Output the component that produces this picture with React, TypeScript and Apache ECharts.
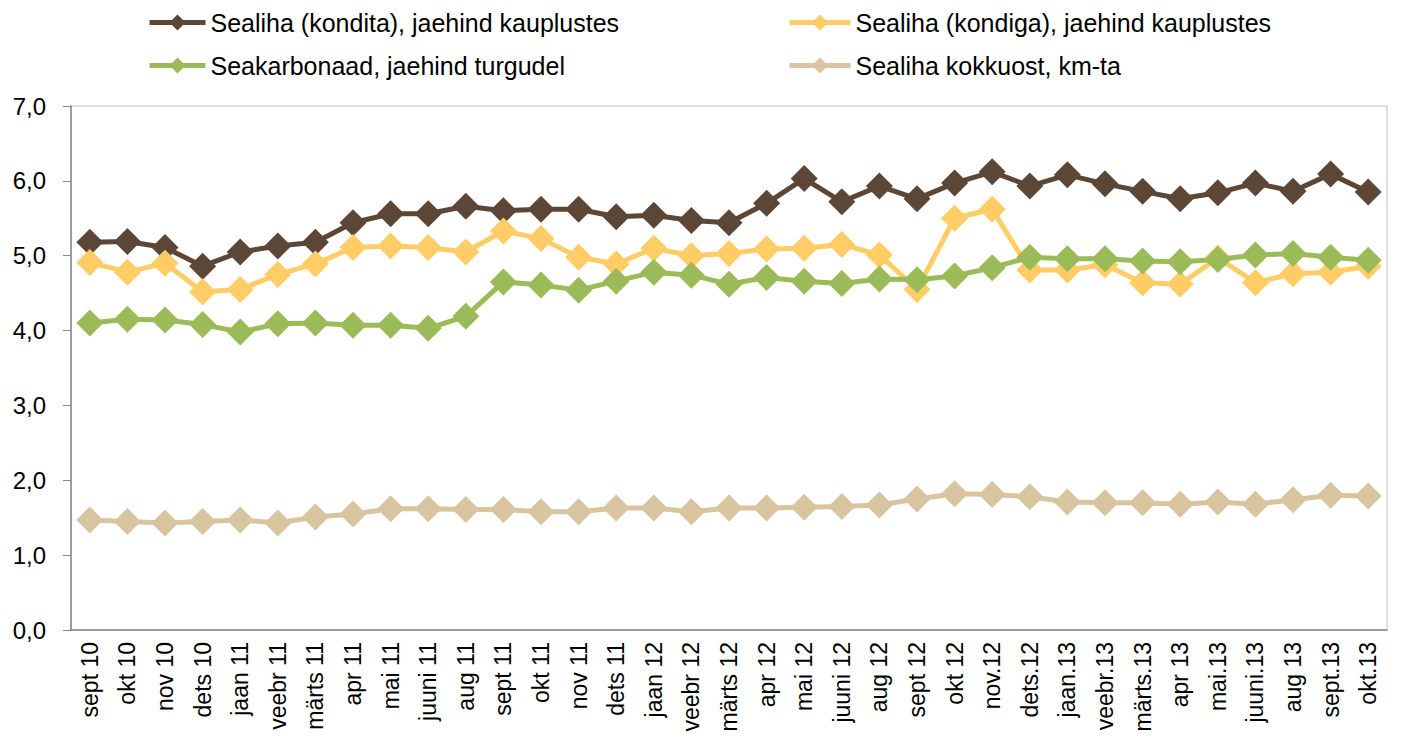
import React, { useEffect, useRef } from "react";
import * as echarts from "echarts";

const categories = [
  "sept 10", "okt 10", "nov 10", "dets 10", "jaan 11", "veebr 11", "märts 11", "apr 11", "mai 11",
  "juuni 11", "aug 11", "sept 11", "okt 11", "nov 11", "dets 11", "jaan 12", "veebr 12", "märts 12",
  "apr 12", "mai 12", "juuni 12", "aug 12", "sept 12", "okt 12", "nov.12", "dets.12", "jaan.13",
  "veebr.13", "märts.13", "apr 13", "mai.13", "juuni.13", "aug 13", "sept.13", "okt.13",
];

const seriesNames = [
  "Sealiha (kondita), jaehind kauplustes",
  "Sealiha (kondiga), jaehind kauplustes",
  "Seakarbonaad, jaehind turgudel",
  "Sealiha kokkuost, km-ta",
];

const konditaValues = [
  5.18, 5.19, 5.11, 4.86, 5.05, 5.13, 5.18, 5.44, 5.56, 5.56, 5.66, 5.6, 5.62,
  5.62, 5.52, 5.54, 5.47, 5.44, 5.7, 6.03, 5.72, 5.93, 5.76, 5.97,
  6.12, 5.93, 6.08, 5.96, 5.86, 5.76, 5.84, 5.97, 5.86, 6.09, 5.85,
];
const kondigaValues = [
  4.91, 4.78, 4.9, 4.52, 4.55, 4.75, 4.89, 5.11, 5.13, 5.11, 5.05, 5.33, 5.23,
  4.98, 4.89, 5.1, 5.0, 5.03, 5.09, 5.1, 5.15, 5.01, 4.55, 5.5,
  5.62, 4.81, 4.81, 4.88, 4.64, 4.62, 4.97, 4.64, 4.76, 4.78, 4.86,
];
const karbonaadValues = [
  4.1, 4.15, 4.14, 4.08, 3.98, 4.09, 4.1, 4.07, 4.07, 4.03, 4.19, 4.65, 4.61,
  4.54, 4.66, 4.78, 4.74, 4.62, 4.71, 4.66, 4.63, 4.69, 4.68, 4.73,
  4.84, 4.98, 4.96, 4.96, 4.93, 4.92, 4.95, 5.01, 5.03, 4.98, 4.94,
];
const kokkuostValues = [
  1.47, 1.45, 1.43, 1.45, 1.47, 1.43, 1.51, 1.55, 1.62, 1.62, 1.61, 1.61, 1.58,
  1.58, 1.63, 1.63, 1.58, 1.63, 1.63, 1.64, 1.65, 1.67, 1.75, 1.82,
  1.81, 1.78, 1.71, 1.7, 1.7, 1.68, 1.71, 1.68, 1.74, 1.8, 1.79,
];

const colors = ["#5C4736", "#FFCC66", "#9BBB59", "#D8C59F"];
const FONT = "Arial, 'Liberation Sans', sans-serif";

export default function App() {
  const ref = useRef<HTMLDivElement>(null);
  useEffect(() => {
    if (!ref.current) return;
    const chart = echarts.init(ref.current, undefined, { renderer: "svg" });
    const allValues = [konditaValues, kondigaValues, karbonaadValues, kokkuostValues];
    const legendCommon = {
      orient: "vertical" as const,
      top: 5,
      itemHeight: 20,
      itemGap: 18,
      lineStyle: { width: 5 },
      textStyle: { fontSize: 25, color: "#000", fontFamily: FONT },
    };
    chart.setOption({
      animation: false,
      color: colors,
      textStyle: { fontFamily: FONT },
      legend: [
        { ...legendCommon, left: 142, itemWidth: 56, data: [seriesNames[0], seriesNames[2]] },
        { ...legendCommon, left: 782, itemWidth: 61, data: [seriesNames[1], seriesNames[3]] },
      ],
      grid: {
        left: 71,
        right: 15,
        top: 106,
        bottom: 108,
        show: true,
        borderColor: "#BFBFBF",
        borderWidth: 1,
        containLabel: false,
      },
      xAxis: {
        type: "category",
        data: categories,
        boundaryGap: true,
        axisLine: { show: true, lineStyle: { color: "#868686", width: 1.5 } },
        axisTick: { show: false },
        axisLabel: {
          rotate: 90,
          interval: 0,
          fontSize: 23,
          color: "#000",
          margin: 12,
          fontFamily: FONT,
        },
        splitLine: { show: false },
      },
      yAxis: {
        type: "value",
        min: 0,
        max: 7,
        interval: 1,
        axisLine: { show: true, lineStyle: { color: "#868686", width: 1.5 } },
        axisTick: { show: true, inside: false, length: 8, lineStyle: { color: "#868686" } },
        splitLine: { show: false },
        axisLabel: {
          fontSize: 24,
          color: "#000",
          margin: 25,
          fontFamily: FONT,
          formatter: (v: number) => v.toFixed(1).replace(".", ","),
        },
      },
      series: seriesNames.map((name, i) => ({
        name,
        type: "line",
        data: allValues[i],
        symbol: "diamond",
        symbolSize: 27,
        lineStyle: { width: 5, color: colors[i] },
        itemStyle: { color: colors[i] },
        z: 2 + i,
      })),
    });
    return () => chart.dispose();
  }, []);
  return (
    <div
      ref={ref}
      style={{ position: "fixed", left: 0, top: 0, width: 1402, height: 738, background: "#fff" }}
    />
  );
}
